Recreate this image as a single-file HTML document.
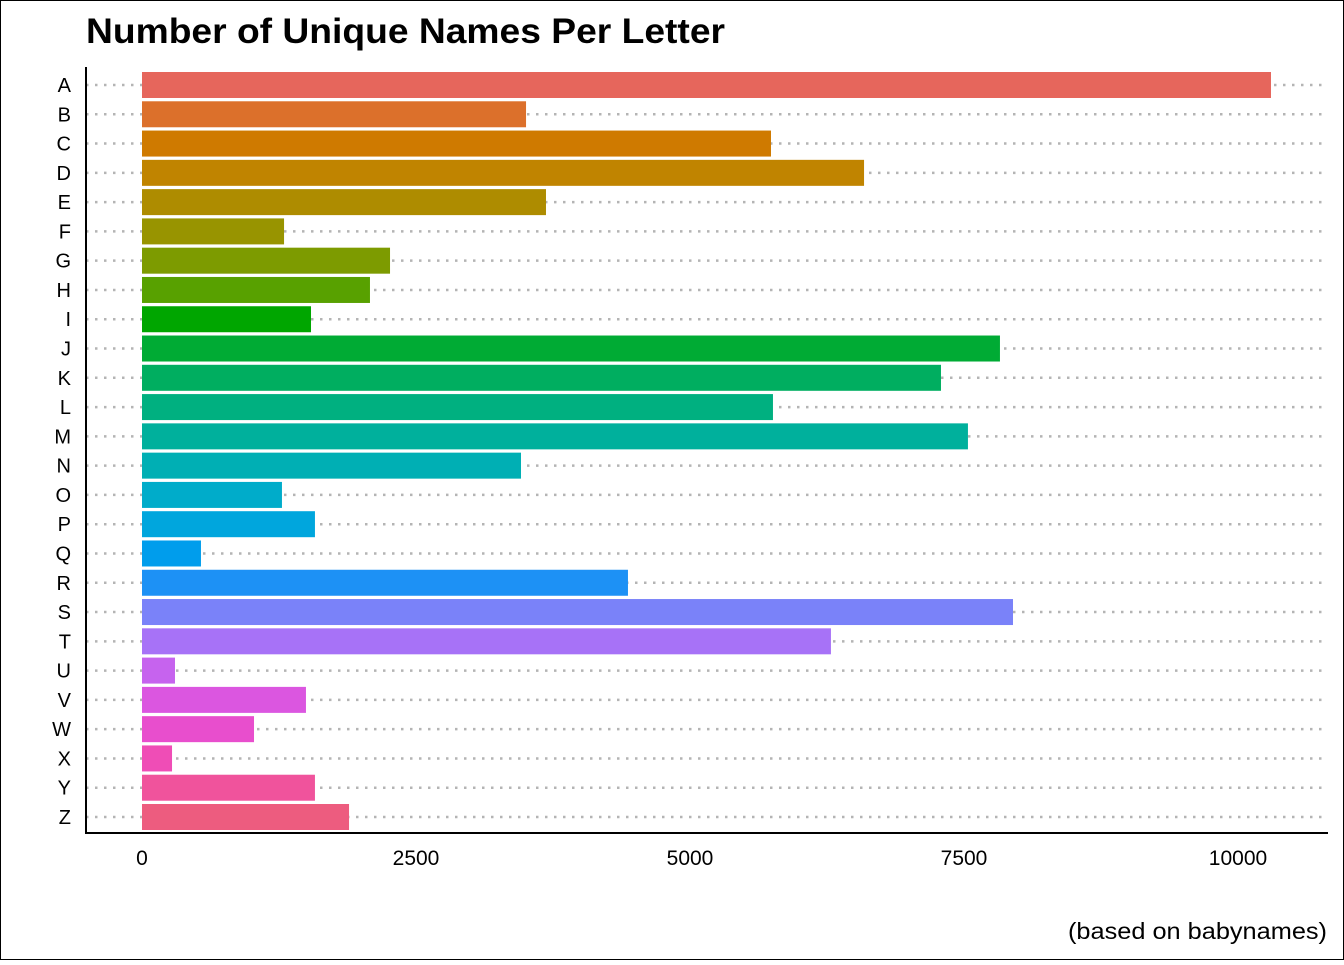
<!DOCTYPE html>
<html><head><meta charset="utf-8">
<style>
html,body{margin:0;padding:0;background:#fff;}
body{width:1344px;height:960px;overflow:hidden;font-family:"Liberation Sans",Arial,sans-serif;}
</style></head>
<body>
<svg id="chart" width="1344" height="960" xmlns="http://www.w3.org/2000/svg" font-family="Liberation Sans, Arial, sans-serif">
<rect x="0.5" y="0.5" width="1343" height="959" fill="#fff" stroke="#000" stroke-width="1"/>
<text x="86" y="43" font-size="35" font-weight="bold" fill="#000" textLength="639" lengthAdjust="spacingAndGlyphs">Number of Unique Names Per Letter</text>
<text x="1327" y="939" font-size="23" text-anchor="end" fill="#000" textLength="259" lengthAdjust="spacingAndGlyphs">(based on babynames)</text>
<g id="grid"></g><g id="bars"></g><g id="axes"></g>
</svg>
<script>
const categories=["A","B","C","D","E","F","G","H","I","J","K","L","M","N","O","P","Q","R","S","T","U","V","W","X","Y","Z"];
const values=[10301,3504,5739,6588,3686,1296,2263,2080,1542,7828,7290,5757,7536,3458,1277,1578,538,4434,7947,6286,301,1496,1022,274,1578,1889];
const xTicks=[0,2500,5000,7500,10000];
const xTickLabels=["0","2500","5000","7500","10000"];
const NS="http://www.w3.org/2000/svg";
const x=v=>142+v*(1096/10000);
const y=i=>85+i*(732/25);
function hcl(h,c,l){
  const hr=h*Math.PI/180;const L=l,U=c*Math.cos(hr),V=c*Math.sin(hr);
  const Xn=95.047,Yn=100,Zn=108.883;
  const un=4*Xn/(Xn+15*Yn+3*Zn),vn=9*Yn/(Xn+15*Yn+3*Zn);
  const Y=L>8?Yn*Math.pow((L+16)/116,3):Yn*L/903.3;
  const u=U/(13*L)+un,v=V/(13*L)+vn;
  const X=9*Y*u/(4*v),Z=-X/3-5*Y+3*Y/v;
  const xr=X/100,yr=Y/100,zr=Z/100;
  let r=3.2406*xr-1.5372*yr-0.4986*zr,g=-0.9689*xr+1.8758*yr+0.0415*zr,b=0.0557*xr-0.2040*yr+1.0570*zr;
  const gm=t=>{t=t<=0.0031308?12.92*t:1.055*Math.pow(t,1/2.4)-0.055;return Math.round(Math.max(0,Math.min(1,t))*255);};
  return `rgb(${gm(r)},${gm(g)},${gm(b)})`;
}
function mk(tag,attrs,parent){const e=document.createElementNS(NS,tag);for(const k in attrs)e.setAttribute(k,attrs[k]);parent.appendChild(e);return e;}
const grid=document.getElementById('grid'),bars=document.getElementById('bars'),axes=document.getElementById('axes');
const n=categories.length;
categories.forEach((c,i)=>{
  const gl=mk('line',{x1:86,x2:1328,y1:y(i),y2:y(i),stroke:'#b4b4b4','stroke-width':2.5,'stroke-dasharray':'2.5 6.5'},grid);
  
  
  const h=15+360*i/n;
  const r=mk('rect',{x:x(0),y:y(i)-13,width:x(values[i])-x(0),height:26,fill:hcl(h,100,59)},bars);
  
  
  const t=mk('text',{x:71,y:y(i)+7,'font-size':20,'text-anchor':'end',fill:'#000'},axes);
  t.textContent=c;
  
  
});
const ya=mk('line',{x1:86,x2:86,y1:67,y2:834,stroke:'#000','stroke-width':2},axes);


const xa=mk('line',{x1:85,x2:1328,y1:833,y2:833,stroke:'#000','stroke-width':2},axes);


xTicks.forEach((v,i)=>{
  const t=mk('text',{x:x(v),y:865,'font-size':21,'text-anchor':'middle',fill:'#000'},axes);
  t.textContent=xTickLabels[i];
  
  
});
</script>
</body></html>
